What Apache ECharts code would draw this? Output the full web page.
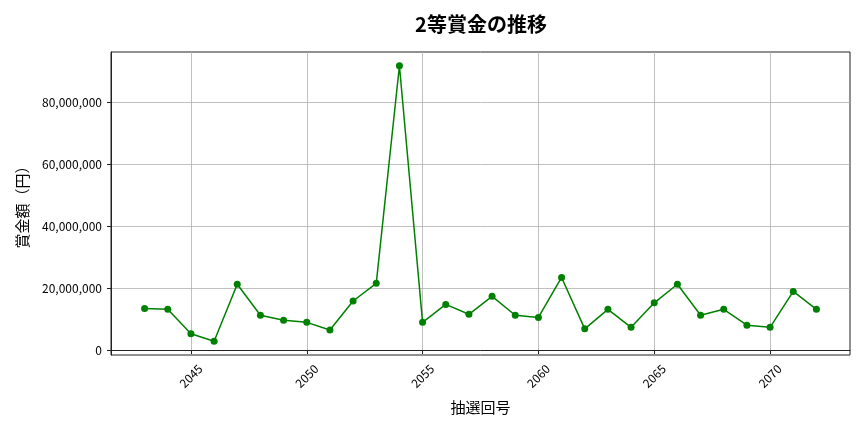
<!DOCTYPE html>
<html>
<head>
<meta charset="utf-8">
<script src="https://cdn.jsdelivr.net/npm/echarts@6/dist/echarts.min.js"></script>
<style>html,body{margin:0;padding:0;background:#fff}#c{width:864px;height:432px}</style>
</head>
<body>
<div id="c"></div>
<script>
const title = '2等賞金の推移';
const xName = '抽選回号';
const yName = '賞金額（円）';
const draws = [2043,2044,2045,2046,2047,2048,2049,2050,2051,2052,2053,2054,2055,2056,2057,2058,2059,2060,2061,2062,2063,2064,2065,2066,2067,2068,2069,2070,2071,2072];
const prizes = [13500000,13200000,5300000,2900000,21300000,11300000,9700000,9000000,6500000,15900000,21600000,91900000,9000000,14800000,11600000,17400000,11300000,10600000,23500000,6900000,13200000,7400000,15300000,21300000,11300000,13200000,8100000,7400000,19000000,13200000];
const xTicks = [2045, 2050, 2055, 2060, 2065, 2070];
const yTicks = [0, 20000000, 40000000, 60000000, 80000000];

const font = '"Noto Sans CJK JP", "Noto Sans", sans-serif';
const chart = echarts.init(document.getElementById('c'));
chart.setOption({
  animation: false,
  textStyle: { fontFamily: font },
  title: {
    text: title, left: 476, top: 9, textAlign: 'center',
    textStyle: { fontFamily: font, fontSize: 20, fontWeight: 'bold', color: '#000' }
  },
  grid: { left: 111, right: 14, top: 52, bottom: 77, show: true, borderColor: '#222', borderWidth: 1, backgroundColor: 'transparent' },
  xAxis: {
    type: 'value', min: 2041.55, max: 2073.45,
    name: xName, nameLocation: 'middle', nameGap: 45,
    nameTextStyle: { fontFamily: font, fontSize: 15, color: '#000' },
    axisLine: { show: true, lineStyle: { color: '#222' } },
    axisTick: { show: true, length: 4, customValues: xTicks, lineStyle: { color: '#222' } },
    axisLabel: { rotate: 45, fontSize: 12, color: '#000', margin: 21, align: 'center', verticalAlign: 'middle',
      customValues: xTicks, formatter: v => String(v) },
    splitLine: { show: true, lineStyle: { color: '#b0b0b0', width: 0.8 } }
  },
  yAxis: {
    type: 'value', min: -1550000, max: 96350000,
    name: yName, nameLocation: 'middle', nameGap: 81, nameRotate: 90,
    nameTextStyle: { fontFamily: font, fontSize: 15, color: '#000' },
    axisLine: { show: true, lineStyle: { color: '#222' } },
    axisTick: { show: true, length: 4, customValues: yTicks, lineStyle: { color: '#222' } },
    axisLabel: { fontSize: 12, color: '#000', margin: 9, customValues: yTicks,
      formatter: v => Math.round(v).toLocaleString('en-US') },
    splitLine: { show: true, lineStyle: { color: '#b0b0b0', width: 0.8 } }
  },
  series: [{
    type: 'line',
    data: draws.map((d, i) => [d, prizes[i]]),
    symbol: 'circle', symbolSize: 7,
    itemStyle: { color: '#008000' },
    lineStyle: { color: '#008000', width: 1.5 }
  }]
});
</script>
</body>
</html>
